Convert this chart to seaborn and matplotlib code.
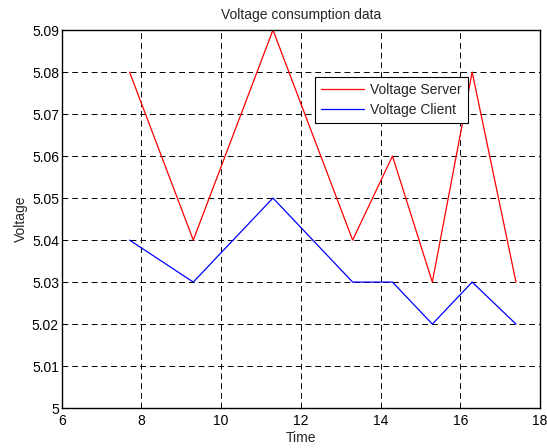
import numpy as np
import matplotlib
matplotlib.use('Agg')
import matplotlib.pyplot as plt
import pandas as pd
import seaborn as sns

time = [7.7, 9.3, 11.3, 13.3, 14.3, 15.3, 16.3, 17.4]
voltage_server = [5.08, 5.04, 5.09, 5.04, 5.06, 5.03, 5.08, 5.03]
voltage_client = [5.04, 5.03, 5.05, 5.03, 5.03, 5.02, 5.03, 5.02]
x_ticks = [6, 8, 10, 12, 14, 16, 18]
y_ticks = [5, 5.01, 5.02, 5.03, 5.04, 5.05, 5.06, 5.07, 5.08, 5.09]
y_labels = ['5', '5.01', '5.02', '5.03', '5.04', '5.05', '5.06', '5.07', '5.08', '5.09']

df = pd.DataFrame({
    'Time': time * 2,
    'Voltage': voltage_server + voltage_client,
    'series': ['Voltage Server'] * len(time) + ['Voltage Client'] * len(time),
})

sns.set_style('white')
plt.rcParams['font.family'] = ['Liberation Sans', 'DejaVu Sans']
plt.rcParams['font.size'] = 10

fig = plt.figure(figsize=(5.47, 4.48), dpi=100)
ax = fig.add_axes([0.113, 0.089, 0.874, 0.844])

sns.lineplot(data=df, x='Time', y='Voltage', hue='series',
             palette={'Voltage Server': '#ff0000', 'Voltage Client': '#0000ff'},
             linewidth=0.9, ax=ax, legend=True)

ax.set_xlim(6, 18)
ax.set_ylim(5, 5.09)
ax.set_xticks(x_ticks)
ax.set_yticks(y_ticks)
ax.set_yticklabels(y_labels)
ax.grid(True, color='black', linestyle=(0, (6, 4)), linewidth=0.7)
ax.tick_params(direction='in', length=3, width=0.8, colors='black', labelsize=10)
ax.tick_params(axis='x', pad=4.5)
ax.tick_params(axis='y', pad=2)
for s in ax.spines.values():
    s.set_color('black')
    s.set_linewidth(1.0)
ax.set_xlabel('Time', fontsize=10, labelpad=2)
ax.set_ylabel('Voltage', fontsize=10, labelpad=3)
ax.set_title('Voltage consumption data', fontsize=10, pad=8)

leg = ax.legend(loc='upper left', bbox_to_anchor=(0.529, 0.876), frameon=True,
                fancybox=False, edgecolor='black', framealpha=1,
                fontsize=10, borderpad=0.45, handlelength=3.1, handletextpad=0.45,
                labelspacing=0.42, borderaxespad=0)
leg.get_frame().set_linewidth(0.8)

fig.savefig('out.png', dpi=100)
